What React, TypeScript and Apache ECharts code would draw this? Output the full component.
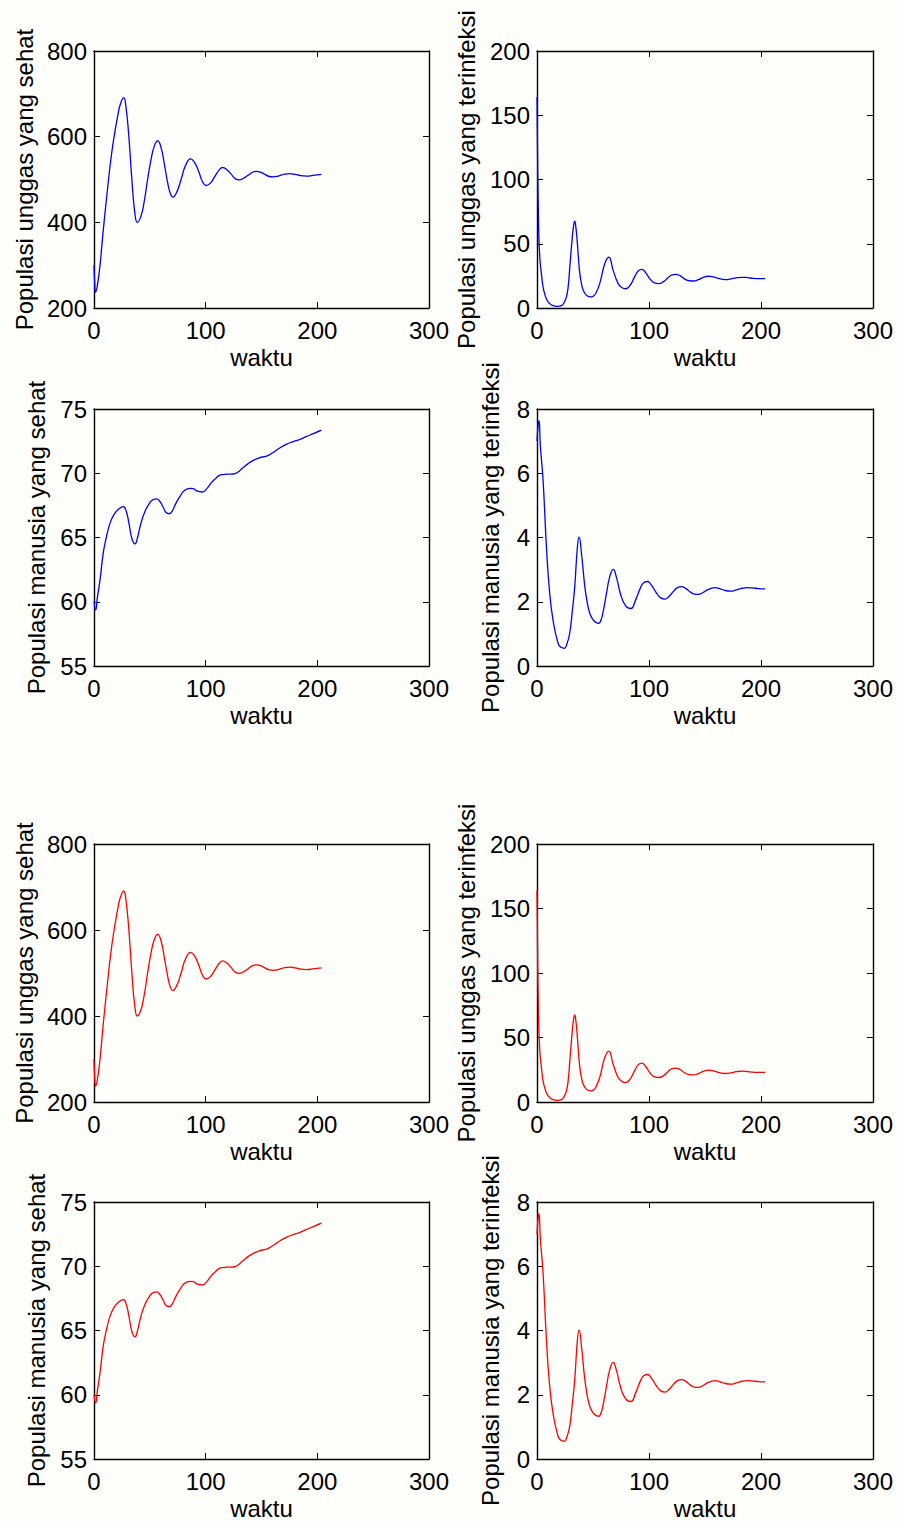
import React, { useEffect, useRef } from "react";
import * as echarts from "echarts";

// Simulated trajectories over time (waktu), read as [waktu, value] pairs.
const unggasSehat: [number, number][] = [
  [0, 300], [0.7, 255], [1.5, 237], [3, 252], [5.4, 300], [7, 345], [9, 400], [12, 475],
  [15, 545], [18, 600], [21, 645], [23.5, 675], [26.6, 691], [28.5, 672], [31, 607],
  [34, 497], [36.5, 424], [38.8, 400], [42, 414], [45, 449], [48, 500], [51, 545],
  [54, 578], [57, 590], [60, 575], [63, 536], [66, 492], [68.5, 466], [70.5, 459],
  [74, 470], [78, 500], [82, 533], [86.6, 548], [90, 540], [94, 517], [97, 496],
  [100.3, 486], [104, 491], [108, 506], [112, 522], [115.2, 528], [119, 523],
  [123, 512], [126.5, 502], [130.1, 499], [134, 503], [138, 510], [142, 517],
  [145.4, 519], [149, 517], [153, 512], [157, 507], [160.6, 506], [165, 508],
  [170, 512], [175.5, 513.6], [180, 512], [185, 509], [190.4, 508], [196, 509.5],
  [203.6, 512],
];

const unggasTerinfeksi: [number, number][] = [
  [0, 164], [0.6, 110], [1.2, 75], [1.8, 52], [2.8, 36], [3.9, 27], [5.3, 17],
  [6.9, 11], [9, 6], [11.4, 3.4], [14.3, 1.8], [18, 1.3], [21.7, 1.8], [24, 4],
  [26.3, 8.6], [28, 18], [29.3, 32], [31.3, 53], [32.5, 63], [33.7, 67.5], [34.8, 62],
  [35.8, 53], [37, 39], [38.2, 27], [39.7, 19], [41.2, 14], [44, 10], [46.5, 8.8],
  [48.6, 8.6], [50.5, 9.3], [52.5, 11.5], [56, 19], [60.5, 34.5], [64.1, 39.5],
  [68, 29.3], [72.5, 19], [76, 15.8], [79, 15], [83, 17.5], [87, 24], [90.5, 29],
  [93.6, 30.1], [97, 27.5], [101, 22.5], [105, 19.5], [108.8, 19], [113, 20.5],
  [117, 23.5], [120.5, 25.8], [124, 26.2], [128, 25], [132, 22.5], [136, 21.2],
  [139.8, 21], [144, 22], [148.5, 23.8], [153, 24.7], [158, 24], [163, 22.8],
  [168, 22.1], [173, 22.6], [178, 23.5], [183.4, 23.9], [188, 23.6], [193, 23.1],
  [198, 22.9], [203.6, 22.9],
];

const manusiaSehat: [number, number][] = [
  [0, 60.0], [1.5, 59.36], [3, 60.3], [5.4, 61.7], [8.3, 63.8], [11, 65], [14.3, 66.1],
  [18, 66.8], [22, 67.2], [26.2, 67.4], [29, 67], [31.5, 66], [34, 64.9], [36.7, 64.5],
  [39, 65], [42, 66.1], [46, 67.1], [50, 67.7], [53, 67.95], [56.1, 68.0], [59, 67.8],
  [62, 67.35], [64.5, 66.95], [67.4, 66.85], [70, 67.05], [73, 67.6], [77, 68.2],
  [81, 68.65], [86, 68.83], [89, 68.8], [92, 68.62], [97, 68.54], [101, 68.8],
  [105, 69.25], [109, 69.6], [112, 69.82], [115.8, 69.9], [120, 69.93], [124.8, 69.94],
  [129, 70.1], [133, 70.4], [138, 70.75], [142.7, 71.0], [148, 71.2], [154.6, 71.34],
  [160, 71.6], [166, 71.95], [172.6, 72.27], [178, 72.45], [184.5, 72.64], [190, 72.85],
  [197, 73.1], [203.6, 73.35],
];

const manusiaTerinfeksi: [number, number][] = [
  [0, 7.0], [1, 7.5], [1.8, 7.64], [3, 6.85], [5.4, 5.8], [8.4, 3.72], [11, 2.4],
  [14.3, 1.43], [18.8, 0.71], [21.5, 0.58], [24.2, 0.55], [26.8, 0.7], [29.2, 1.02],
  [31.5, 1.7], [33.7, 2.47], [36.1, 3.72], [37.6, 4.01], [39.7, 3.51], [42.7, 2.47],
  [45, 1.95], [47.1, 1.64], [49, 1.5], [51, 1.4], [53, 1.35], [55.2, 1.33], [57, 1.42],
  [58.5, 1.59], [62, 2.25], [65, 2.79], [68, 3.01], [71, 2.75], [74.5, 2.25],
  [79, 1.88], [83.8, 1.79], [88, 2.05], [92, 2.4], [95.5, 2.6], [98.7, 2.63],
  [102.5, 2.5], [106.5, 2.28], [110.5, 2.12], [114.2, 2.08], [118, 2.17], [122, 2.33],
  [125.5, 2.44], [129.1, 2.47], [133, 2.41], [137, 2.3], [140.5, 2.24], [144, 2.23],
  [148, 2.28], [152, 2.37], [155.5, 2.42], [159, 2.44], [163, 2.41], [168, 2.35],
  [173.2, 2.33], [178, 2.37], [183, 2.42], [187.3, 2.44], [192, 2.43], [198, 2.41],
  [203.6, 2.40],
];

// Axis ranges and tick steps
const waktuRange = { min: 0, max: 300, interval: 100 };
const unggasSehatRange = { min: 200, max: 800, interval: 200 };
const unggasTerinfeksiRange = { min: 0, max: 200, interval: 50 };
const manusiaSehatRange = { min: 55, max: 75, interval: 5 };
const manusiaTerinfeksiRange = { min: 0, max: 8, interval: 2 };

const xTitle = "waktu";
const yTitles = [
  "Populasi unggas yang sehat",
  "Populasi unggas yang terinfeksi",
  "Populasi manusia yang sehat",
  "Populasi manusia yang terinfeksi",
];

const FONT = "'Liberation Sans', Arial, Helvetica, sans-serif";
const FS = 24;

export default function App() {
  const ref = useRef<HTMLDivElement>(null);

  useEffect(() => {
    document.body.style.margin = "0";
    document.body.style.background = "#fefefa";
    if (!ref.current) return;
    const chart = echarts.init(ref.current, undefined, { renderer: "svg" });

    const panels = [
      { data: unggasSehat, range: unggasSehatRange, title: yTitles[0], color: "#0000ff", left: 94, top: 51, w: 335, h: 257, gap: 58 },
      { data: unggasTerinfeksi, range: unggasTerinfeksiRange, title: yTitles[1], color: "#0000ff", left: 537, top: 51, w: 336, h: 257, gap: 59 },
      { data: manusiaSehat, range: manusiaSehatRange, title: yTitles[2], color: "#0000ff", left: 94, top: 409, w: 335, h: 257, gap: 46 },
      { data: manusiaTerinfeksi, range: manusiaTerinfeksiRange, title: yTitles[3], color: "#0000ff", left: 537, top: 409, w: 336, h: 257, gap: 35 },
      { data: unggasSehat, range: unggasSehatRange, title: yTitles[0], color: "#ff0000", left: 94, top: 844, w: 335, h: 258, gap: 58 },
      { data: unggasTerinfeksi, range: unggasTerinfeksiRange, title: yTitles[1], color: "#ff0000", left: 537, top: 844, w: 336, h: 258, gap: 59 },
      { data: manusiaSehat, range: manusiaSehatRange, title: yTitles[2], color: "#ff0000", left: 94, top: 1202, w: 335, h: 257, gap: 46 },
      { data: manusiaTerinfeksi, range: manusiaTerinfeksiRange, title: yTitles[3], color: "#ff0000", left: 537, top: 1202, w: 336, h: 257, gap: 35 },
    ];

    const axisLine = { show: true, onZero: false, lineStyle: { color: "#000", width: 1.4 } };
    const tick = { show: true, inside: true, length: 6, lineStyle: { color: "#000", width: 1 } };
    const label = { color: "#000", fontFamily: FONT, fontSize: FS };

    const grid: any[] = [];
    const xAxis: any[] = [];
    const yAxis: any[] = [];
    const series: any[] = [];

    panels.forEach((p, i) => {
      grid.push({ left: p.left, top: p.top, width: p.w, height: p.h, containLabel: false });
      // bottom x axis with labels and title
      xAxis.push({
        type: "value", gridIndex: i, position: "bottom", ...waktuRange,
        axisLine, axisTick: tick, splitLine: { show: false },
        axisLabel: { ...label, margin: 10 },
        name: xTitle, nameLocation: "middle", nameGap: 37,
        nameTextStyle: { ...label },
      });
      // top x axis: ticks only, closes the box
      xAxis.push({
        type: "value", gridIndex: i, position: "top", ...waktuRange,
        axisLine, axisTick: tick, splitLine: { show: false }, axisLabel: { show: false },
      });
      // left y axis with labels and title
      yAxis.push({
        type: "value", gridIndex: i, position: "left", ...p.range,
        axisLine, axisTick: tick, splitLine: { show: false },
        axisLabel: { ...label, margin: 7 },
        name: p.title, nameLocation: "middle", nameGap: p.gap,
        nameTextStyle: { ...label },
      });
      // right y axis: ticks only
      yAxis.push({
        type: "value", gridIndex: i, position: "right", ...p.range,
        axisLine, axisTick: tick, splitLine: { show: false }, axisLabel: { show: false },
      });
      series.push({
        type: "line",
        xAxisIndex: i * 2,
        yAxisIndex: i * 2,
        data: p.data,
        smooth: 0.5,
        showSymbol: false,
        lineStyle: { color: p.color, width: 1.3 },
        silent: true,
      });
    });

    chart.setOption({
      animation: false,
      backgroundColor: "#fefefa",
      textStyle: { fontFamily: FONT },
      grid,
      xAxis,
      yAxis,
      series,
    });

    return () => chart.dispose();
  }, []);

  return <div ref={ref} style={{ width: 897, height: 1524 }} />;
}
